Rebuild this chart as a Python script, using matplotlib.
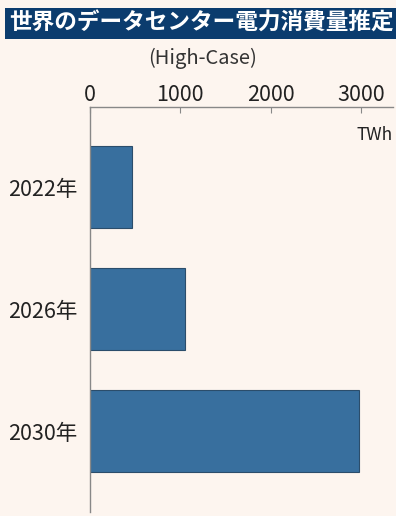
import numpy as np
import matplotlib.pyplot as plt
from matplotlib.patches import Rectangle

years = ["2022年", "2026年", "2030年"]
twh = [460, 1050, 2980]
xticks = [0, 1000, 2000, 3000]

bg = "#fdf5ef"
navy = "#0b3c6e"
bar_color = "#386f9e"

plt.rcParams["font.family"] = ["Noto Sans CJK JP", "DejaVu Sans"]

fig = plt.figure(figsize=(3.96, 5.16), dpi=100, facecolor=bg)

# title band
fig.patches.append(Rectangle((5 / 396, 1 - 39 / 516), 391 / 396, 31 / 516,
                             transform=fig.transFigure, facecolor=navy,
                             edgecolor="none", zorder=0))
fig.text(9 / 396, 1 - 23.5 / 516, "世界のデータセンター電力消費量推定",
         color="white", fontsize=16.3, fontweight="bold", va="center", ha="left")
fig.text(203 / 396, 1 - 58 / 516, "(High-Case)", color="#333333",
         fontsize=14.5, va="center", ha="center")

ax = fig.add_axes([90 / 396, 4 / 516, 303 / 396, 405 / 516])
ax.set_facecolor(bg)

y = np.arange(len(years))
ax.barh(y, twh, height=0.672, color=bar_color, edgecolor="#2b4d6b", linewidth=0.8)

ax.set_ylim(2.664, -0.656)
ax.set_xlim(0, 3355)
ax.xaxis.tick_top()
ax.set_xticks(xticks)
ax.set_xticklabels([str(v) for v in xticks], fontsize=15.5, color="#222222")
ax.tick_params(axis="x", direction="in", length=4, width=0.8, color="#888888", pad=1)
ax.set_yticks(y)
ax.set_yticklabels(years, fontsize=15.5, color="#222222")
ax.tick_params(axis="y", length=0, pad=9)

for s in ["right", "bottom"]:
    ax.spines[s].set_visible(False)
for s in ["top", "left"]:
    ax.spines[s].set_color("#888888")
    ax.spines[s].set_linewidth(1)

ax.text(1.0, 0.93, "TWh", transform=ax.transAxes, ha="right", va="center",
        fontsize=12.5, color="#222222")

fig.savefig("out.png", dpi=100, facecolor=bg)
